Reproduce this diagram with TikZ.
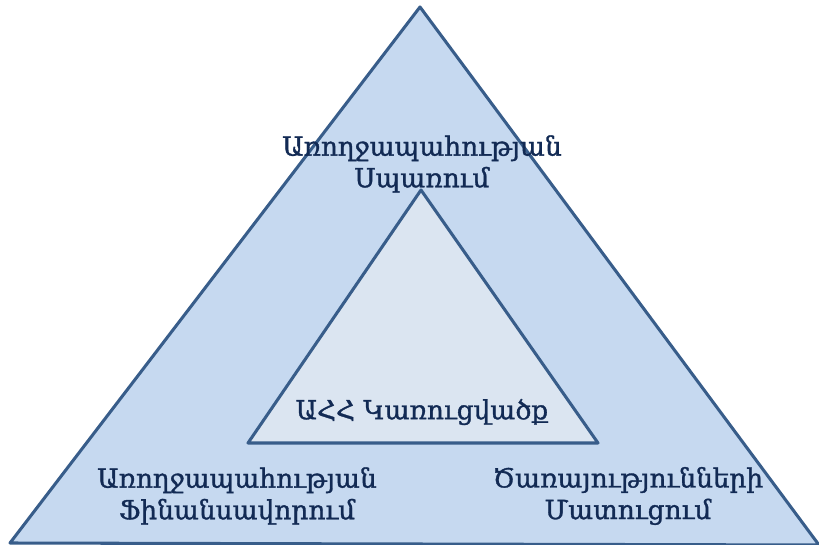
\documentclass[tikz,border=0pt]{standalone}
\usepackage{fontspec}
\newfontfamily\armfont[FakeBold=1.2]{DejaVu Serif}
\definecolor{outerfill}{RGB}{198,217,240}
\definecolor{innerfill}{RGB}{219,229,241}
\definecolor{edgeblue}{RGB}{56,93,138}
\definecolor{textnavy}{RGB}{18,42,84}
\tikzset{
  label text/.style={text=textnavy, font=\armfont\fontsize{22.5}{27}\selectfont, align=center, inner sep=0pt}
}
\begin{document}
\begin{tikzpicture}[x=0.03cm, y=-0.03cm, line width=2.6pt]
  \useasboundingbox (0,0) rectangle (819,545);
  \clip (0,0) rectangle (819,545);
  % outer triangle
  \draw[draw=edgeblue, fill=outerfill, line join=round] (420,7) -- (819,545) -- (10,543) -- cycle;
  % inner triangle
  \draw[draw=edgeblue, fill=innerfill, line join=round] (421,190) -- (598,443) -- (248,443) -- cycle;
  % labels
  \node[label text] (spend) at (422,164) {Առողջապահության\\Սպառում};
  \node[label text] (core) at (422,412) {ԱՀՀ Կառուցվածք};
  \node[label text] (finance) at (237,496) {Առողջապահության\\Ֆինանսավորում};
  \node[label text] (service) at (628,496) {Ծառայությունների\\Մատուցում};
\end{tikzpicture}
\end{document}
